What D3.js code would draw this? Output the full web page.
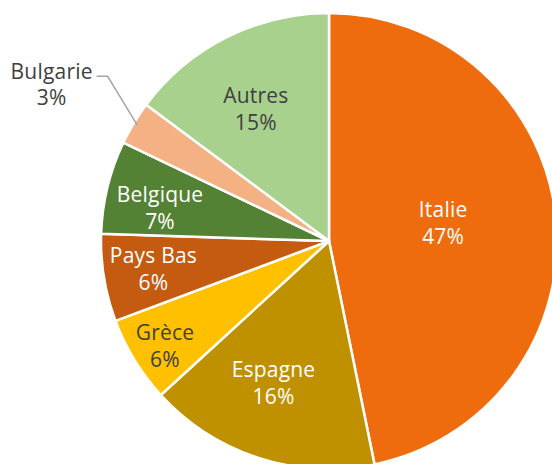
<!DOCTYPE html>
<html>
<head>
<meta charset="utf-8">
<script src="https://cdn.jsdelivr.net/npm/d3@7.9.0/dist/d3.min.js"></script>
<style>
  html, body { margin: 0; padding: 0; background: #fff; }
  svg text { font-family: "Open Sans", Lato, sans-serif; font-size: 21px; letter-spacing: 0.2px; }
</style>
</head>
<body>
<svg id="chart" width="552" height="464"></svg>
<script>
// Data (share of total, %)
const countries = ["Italie", "Espagne", "Grèce", "Pays Bas", "Belgique", "Bulgarie", "Autres"];
const shares = [46.8, 16.4, 6.1, 6.2, 6.6, 3.1, 14.8];

const colors = ["#EE6C0E", "#BF9000", "#FFC000", "#C55A11", "#548235", "#F4B183", "#A9D18E"];
const textColors = ["#fff", "#fff", "#404040", "#fff", "#fff", "#404040", "#404040"];
// label distance from centre as a fraction of radius (null = outside with leader),
// and a small angle nudge (degrees) off the slice middle
const labelRadius = [0.507, 0.667, 0.855, 0.78, 0.755, null, 0.662];
const labelShift = [-3.4, 3.4, -1.2, 0.2, -2.65, 0, -2.35];

const CONFIG = { CX: 329, CY: 241, R: 228 };

const svg = d3.select("#chart");
const g = svg.append("g").attr("transform", `translate(${CONFIG.CX},${CONFIG.CY})`);

const data = countries.map((c, i) => ({ name: c, value: shares[i], i }));

const pie = d3.pie().value(d => d.value).sort(null);
const arcs = pie(data);

const arc = d3.arc().innerRadius(0).outerRadius(CONFIG.R);

g.selectAll("path.slice")
  .data(arcs)
  .join("path")
  .attr("class", "slice")
  .attr("d", arc)
  .attr("fill", d => colors[d.data.i])
  .attr("stroke", "#fff")
  .attr("stroke-width", 2.5)
  .attr("stroke-linejoin", "round");

const rad = deg => deg * Math.PI / 180;

// inside labels
arcs.forEach(d => {
  const k = labelRadius[d.data.i];
  if (k === null) return;
  const a = (d.startAngle + d.endAngle) / 2 + rad(labelShift[d.data.i]);
  const r = CONFIG.R * k;
  const x = r * Math.sin(a), y = -r * Math.cos(a);
  const t = g.append("text")
    .attr("text-anchor", "middle")
    .attr("fill", textColors[d.data.i]);
  t.append("tspan").attr("x", x).attr("y", y - 6).text(d.data.name);
  t.append("tspan").attr("x", x).attr("y", y + 21).text(Math.round(d.data.value) + "%");
});

// outside label with leader line (Bulgarie)
arcs.filter(d => labelRadius[d.data.i] === null).forEach(d => {
  const a = (d.startAngle + d.endAngle) / 2;
  const p0 = [(CONFIG.R - 4) * Math.sin(a), -(CONFIG.R - 4) * Math.cos(a)];
  const ea = a + rad(5.5);
  const p1 = [CONFIG.R * 1.21 * Math.sin(ea), -CONFIG.R * 1.21 * Math.cos(ea)];
  const p2 = [p1[0] - 11, p1[1]];
  g.append("polyline")
    .attr("points", [p0, p1, p2].map(p => p.join(",")).join(" "))
    .attr("fill", "none")
    .attr("stroke", "#A6A6A6")
    .attr("stroke-width", 1.5);
  const tx = p2[0] - 45;
  const t = g.append("text")
    .attr("text-anchor", "middle")
    .attr("fill", textColors[d.data.i]);
  t.append("tspan").attr("x", tx).attr("y", p2[1] + 3).text(d.data.name);
  t.append("tspan").attr("x", tx).attr("y", p2[1] + 29).text(Math.round(d.data.value) + "%");
});
</script>
</body>
</html>
